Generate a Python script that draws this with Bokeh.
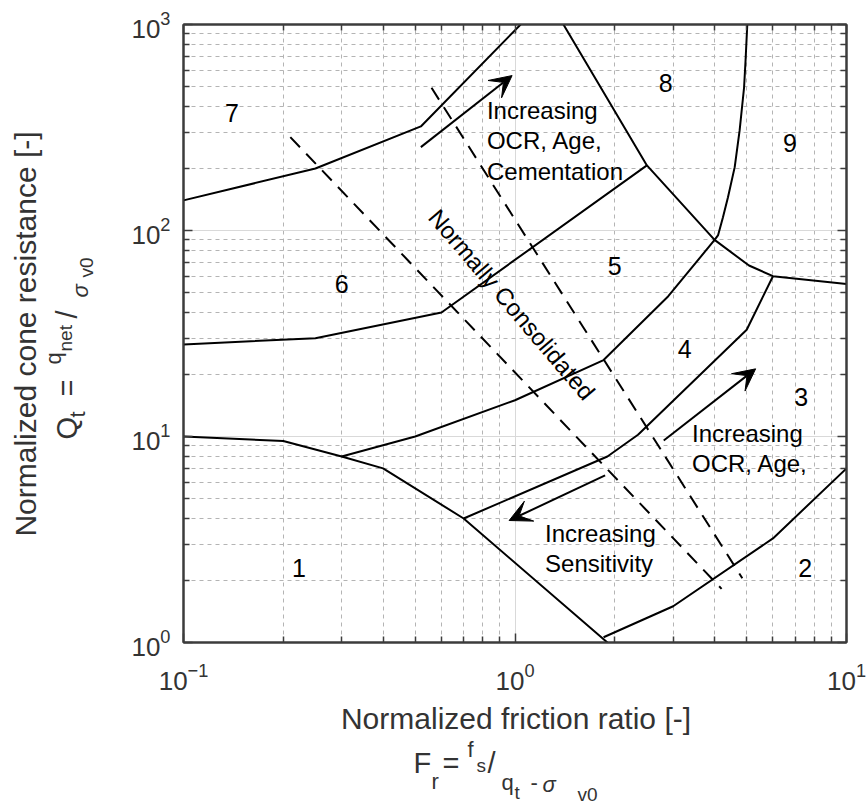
from bokeh.plotting import figure
from bokeh.layouts import row, column
from bokeh.models import (LogAxis, FixedTicker, Arrow, VeeHead, Range1d,
                          ColumnDataSource, CustomJSTickFormatter)
from bokeh.core.properties import value
from bokeh.embed import file_html
from bokeh.resources import INLINE
import math

# ---- Soil behaviour type chart: zone boundaries (Fr in %, Qt) ----
zone1_top_fr = [0.1, 0.2, 0.3, 0.4, 0.7, 1.9]
zone1_top_qt = [10, 9.5, 8, 7, 4, 1.0]
zone2_top_fr = [1.85, 3, 6, 10]
zone2_top_qt = [1.06, 1.5, 3.2, 7]
zone34_fr = [0.7, 1.9, 2.35, 5, 6]
zone34_qt = [4, 8, 10.2, 33, 60]
zone45_fr = [0.3, 0.5, 1.0, 1.85, 2.9, 4.0]
zone45_qt = [8, 10, 15, 23.5, 48, 90]
zone56_fr = [0.1, 0.25, 0.6, 2.5]
zone56_qt = [28, 30, 40, 207]
zone67_fr = [0.1, 0.25, 0.52, 1.04]
zone67_qt = [140, 200, 320, 1000]
zone8_fr = [1.4, 2.5, 4.0]
zone8_qt = [1000, 207, 90]
zone9_fr = [4.0, 4.1, 4.24, 4.39, 4.6, 4.76, 4.91, 4.96, 5.02]
zone9_qt = [90, 95, 116, 145, 203, 306, 496, 669, 1000]
zone39_fr = [4.0, 5.08, 6, 10]
zone39_qt = [90, 67.6, 60, 55]

# Normally consolidated band (dashed)
nc_low_fr = [0.21, 4.2]
nc_low_qt = [284, 1.82]
nc_high_fr = [0.56, 4.85]
nc_high_qt = [493, 2.05]

# Trend arrows
arrow_start_fr = [0.52, 2.81, 1.87]
arrow_start_qt = [254, 9.56, 6.47]
arrow_end_fr = [0.98, 5.32, 0.96]
arrow_end_qt = [565, 21.3, 3.91]

# Zone numbers
zone_names = ["1", "2", "3", "4", "5", "6", "7", "8", "9"]
zone_label_fr = [0.223, 7.5, 7.3, 3.25, 2.0, 0.3, 0.14, 2.85, 6.75]
zone_label_qt = [2.3, 2.3, 15.5, 26.5, 67, 55, 370, 520, 267]

# Axis ticks (decades with 2..9 minor ticks)
x_major = [0.1, 1, 10]
x_minor = [k * 10.0 ** e for e in (-1, 0) for k in range(2, 10)]
y_major = [1, 10, 100, 1000]
y_minor = [k * 10.0 ** e for e in (0, 1, 2) for k in range(2, 10)]

FONT = "Liberation Sans"
AX = "#3c3c3c"
TXT = "#333333"

# ---------------- main chart ----------------
p = figure(width=756, height=700, x_axis_type="log", y_axis_type="log",
           x_range=(0.1, 10), y_range=(1, 1000),
           output_backend="svg", toolbar_location=None, frame_align=False,
           min_border_left=73, min_border_right=20,
           min_border_top=24, min_border_bottom=58,
           background_fill_color="white", border_fill_color="white")
p.outline_line_color = AX
p.outline_line_width = 2

bottom_ax = p.below[0]
left_ax = p.left[0]
top_ax = LogAxis(formatter=CustomJSTickFormatter(code="return ''"))
right_ax = LogAxis(formatter=CustomJSTickFormatter(code="return ''"))
p.add_layout(top_ax, "above")
p.add_layout(right_ax, "right")

bottom_ax.ticker = FixedTicker(ticks=x_major, minor_ticks=x_minor)
top_ax.ticker = FixedTicker(ticks=x_major, minor_ticks=x_minor)
left_ax.ticker = FixedTicker(ticks=y_major, minor_ticks=y_minor)
right_ax.ticker = FixedTicker(ticks=y_major, minor_ticks=y_minor)

for ax in (bottom_ax, left_ax, top_ax, right_ax):
    ax.axis_line_color = AX
    ax.axis_line_width = 2
    ax.major_tick_line_color = AX
    ax.minor_tick_line_color = AX
    ax.major_tick_line_width = 1.5
    ax.minor_tick_line_width = 1.5
    ax.major_tick_in = 9
    ax.major_tick_out = 0
    ax.minor_tick_in = 6
    ax.minor_tick_out = 0
    ax.major_label_text_font = FONT
    ax.major_label_text_font_size = "26px"
    ax.major_label_text_color = TXT
bottom_ax.major_label_standoff = 20
left_ax.major_label_standoff = 13
for ax in (top_ax, right_ax):
    ax.major_label_standoff = 0
    ax.major_label_text_font_size = "0px"

for g in (p.xgrid[0], p.ygrid[0]):
    g.grid_line_color = "#d9d9d9"
    g.grid_line_width = 1
    g.minor_grid_line_color = "#b4b4b4"
    g.minor_grid_line_dash = "4 4"
    g.minor_grid_line_width = 1

# solid zone boundaries
for fr, qt in [(zone1_top_fr, zone1_top_qt), (zone2_top_fr, zone2_top_qt),
               (zone34_fr, zone34_qt), (zone45_fr, zone45_qt),
               (zone56_fr, zone56_qt), (zone67_fr, zone67_qt),
               (zone8_fr, zone8_qt), (zone9_fr, zone9_qt),
               (zone39_fr, zone39_qt)]:
    p.line(fr, qt, line_color="black", line_width=2)

# normally consolidated band
for fr, qt in [(nc_low_fr, nc_low_qt), (nc_high_fr, nc_high_qt)]:
    p.line(fr, qt, line_color="black", line_width=2, line_dash="14 9")

# arrows
arrow_src = ColumnDataSource(dict(x0=arrow_start_fr, y0=arrow_start_qt,
                                  x1=arrow_end_fr, y1=arrow_end_qt))
p.add_layout(Arrow(end=VeeHead(size=22, fill_color="black", line_color="black"),
                   x_start="x0", y_start="y0", x_end="x1", y_end="y1",
                   source=arrow_src, line_color="black", line_width=2))

# zone numbers
p.text(x=zone_label_fr, y=zone_label_qt, text=zone_names,
       text_font=value(FONT), text_font_size="25px", text_color="black",
       text_align="center", text_baseline="middle")

# annotations, one entry per line of text (anchored at the middle of each line)
note_text = ["Increasing", "OCR, Age,", "Cementation",
             "Increasing", "OCR, Age,",
             "Increasing", "Sensitivity"]
note_x = [0.823, 0.823, 0.823, 3.42, 3.42, 1.232, 1.232]
note_y = [382.8, 273.2, 193.2, 10.31, 7.37, 3.371, 2.411]
p.text(x=note_x, y=note_y, text=note_text,
       text_font=value(FONT), text_font_size="24px", text_color="black",
       text_align="left", text_baseline="middle")

p.text(x=[0.978], y=[43.7], text=["Normally Consolidated"], angle=-math.radians(49.6),
       text_font=value(FONT), text_font_size="24px", text_color="black",
       text_align="center", text_baseline="middle")


# ---------------- axis titles with formulas ----------------
def title_panel(width, height, x0, y0):
    f = figure(width=width, height=height, x_range=Range1d(x0, x0 + width),
               y_range=Range1d(0, height), output_backend="svg", toolbar_location=None,
               x_axis_location=None, y_axis_location=None, min_border=0,
               frame_align=False,
               background_fill_color="white", border_fill_color="white")
    f.outline_line_color = None
    f.grid.visible = False
    return f


left_panel = title_panel(110, 805, 0, 0)
bottom_panel = title_panel(756, 105, 110, 700)


def put(f, y_top, txt, cx, base, size, angle=0.0, italic=False, align="left"):
    # cx: page x (or baseline x when rotated), base: page baseline y (or start y when rotated)
    if angle == 0.0:
        px, py = cx, base - 0.35 * size
    else:
        px, py = cx - 0.35 * size, base
    f.text(x=[px], y=[f.height - (py - y_top)], text=[txt], angle=angle,
           text_font=value(FONT), text_font_size=f"{size}px", text_color=TXT,
           text_font_style="italic" if italic else "normal",
           text_align=align, text_baseline="middle")


M, S, SS = 29, 22, 19
R = math.pi / 2

# x title and F_r = f_s / (q_t - sigma_v0)
put(bottom_panel, 700, "Normalized friction ratio [-]", 515.5, 728, 30, align="center")
put(bottom_panel, 700, "F", 413, 773, M)
put(bottom_panel, 700, "r", 431, 789, S)
put(bottom_panel, 700, "=", 442, 773, M)
put(bottom_panel, 700, "f", 467, 757, S)
put(bottom_panel, 700, "s", 476, 772, SS)
put(bottom_panel, 700, "/", 487, 773, M)
put(bottom_panel, 700, "q", 501, 790, S)
put(bottom_panel, 700, "t", 514, 799, SS)
put(bottom_panel, 700, "-", 530, 790, S)
put(bottom_panel, 700, "σ", 542, 792, S, italic=True)
put(bottom_panel, 700, "v0", 577, 801, SS)

# y title and Q_t = q_net / sigma_v0 (rotated)
put(left_panel, 0, "Normalized cone resistance [-]", 35, 333.5, 30, R, align="center")
put(left_panel, 0, "Q", 77, 439, M, R)
put(left_panel, 0, "t", 85, 417, S, R)
put(left_panel, 0, "=", 77, 396, M, R)
put(left_panel, 0, "q", 61, 364, S, R)
put(left_panel, 0, "net", 72, 351, SS, R)
put(left_panel, 0, "/", 77, 318, M, R)
put(left_panel, 0, "σ", 88, 297, S, R, italic=True)
put(left_panel, 0, "v0", 93, 277, SS, R)

layout = row(left_panel, column(p, bottom_panel, spacing=0), spacing=0)

open("out.html", "w").write(file_html(layout, INLINE))
